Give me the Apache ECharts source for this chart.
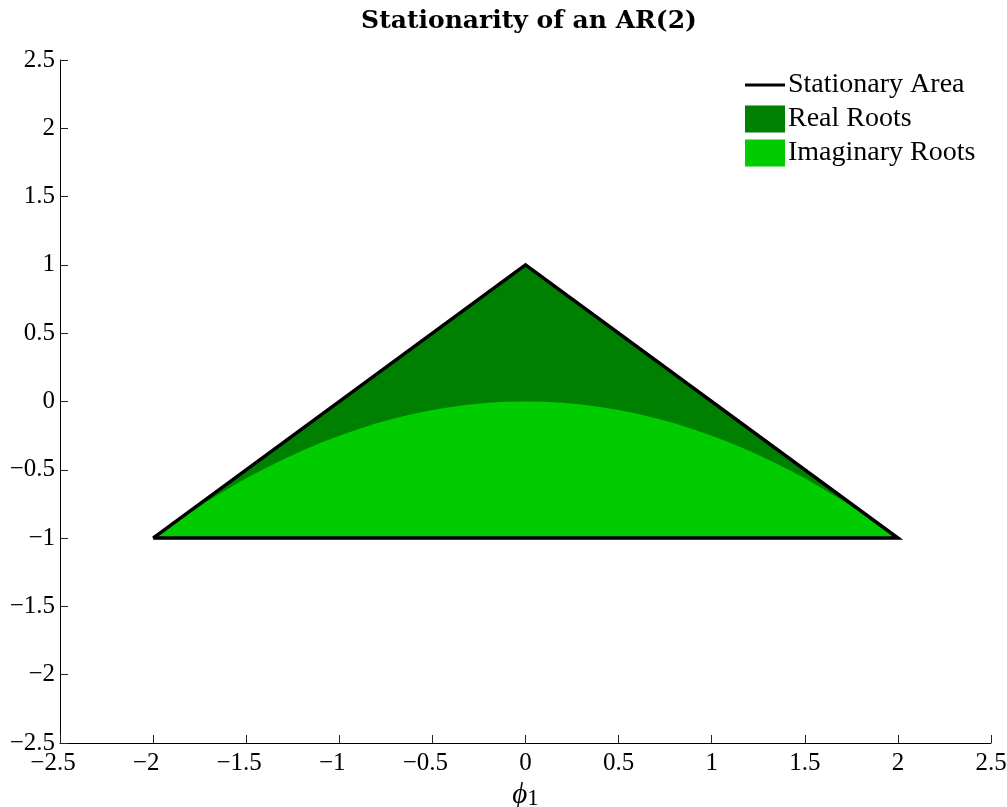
<!DOCTYPE html>
<html>
<head>
<meta charset="utf-8">
<script src="https://cdn.jsdelivr.net/npm/echarts@6/dist/echarts.min.js"></script>
<style>
  html, body { margin: 0; padding: 0; background: #fff; }
  #chart { width: 1007px; height: 807px; }
</style>
</head>
<body>
<div id="chart"></div>
<script>
// ---- data ----
const titleText = 'Stationarity of an AR(2)';
const seriesNames = ['Stationary Area', 'Real Roots', 'Imaginary Roots'];
// stationarity triangle (phi1, phi2)
const triangleX = [-2, 0, 2, -2];
const triangleY = [-1, 1, -1, -1];
// boundary between real and imaginary roots: phi2 = -phi1^2/4 (values written out)
const parabolaX = [-2, -1.9, -1.8, -1.7, -1.6, -1.5, -1.4, -1.3, -1.2, -1.1, -1, -0.9, -0.8, -0.7, -0.6, -0.5, -0.4, -0.3, -0.2, -0.1, 0,
                   0.1, 0.2, 0.3, 0.4, 0.5, 0.6, 0.7, 0.8, 0.9, 1, 1.1, 1.2, 1.3, 1.4, 1.5, 1.6, 1.7, 1.8, 1.9, 2];
const parabolaY = [-1, -0.9025, -0.81, -0.7225, -0.64, -0.5625, -0.49, -0.4225, -0.36, -0.3025, -0.25, -0.2025, -0.16, -0.1225, -0.09, -0.0625, -0.04, -0.0225, -0.01, -0.0025, 0,
                   -0.0025, -0.01, -0.0225, -0.04, -0.0625, -0.09, -0.1225, -0.16, -0.2025, -0.25, -0.3025, -0.36, -0.4225, -0.49, -0.5625, -0.64, -0.7225, -0.81, -0.9025, -1];
const xTicks = [-2.5, -2, -1.5, -1, -0.5, 0, 0.5, 1, 1.5, 2, 2.5];
const yTicks = [-2.5, -2, -1.5, -1, -0.5, 0, 0.5, 1, 1.5, 2, 2.5];

// ---- build ----
const triPts = triangleX.map((x, i) => [x, triangleY[i]]);
const imagPts = parabolaX.map((x, i) => [x, parabolaY[i]]);

function polygonSeries(name, pts, color) {
  return {
    name: name,
    type: 'custom',
    coordinateSystem: 'cartesian2d',
    itemStyle: { color: color },
    data: [pts[0]],
    encode: { x: 0, y: 1 },
    renderItem: function (params, api) {
      const points = pts.map(p => api.coord(p));
      return {
        type: 'polygon',
        shape: { points: points },
        style: { fill: color, stroke: null }
      };
    },
    silent: true
  };
}

const fmt = v => {
  const s = String(v);
  return s.charAt(0) === '-' ? '{n|\u2212' + s.slice(1) + '}{sp|}' : '{n|' + s + '}';
};

const serif = '"Liberation Serif", "Times New Roman", serif';

const chart = echarts.init(document.getElementById('chart'), null, { renderer: 'canvas' });
chart.setOption({
  animation: false,
  backgroundColor: '#fff',
  title: {
    text: titleText,
    left: 524, top: 4,
    textAlign: 'center',
    textStyle: { fontFamily: '"DejaVu Serif", serif', fontWeight: 'bold', fontSize: 25, color: '#000' }
  },
  legend: {
    left: 745, top: 71,
    orient: 'vertical',
    padding: 0,
    itemWidth: 40, itemHeight: 27, itemGap: 6,
    textStyle: { fontFamily: serif, fontSize: 28, color: '#000', padding: [0, 0, 0, -2] },
    data: [
      { name: seriesNames[0], icon: 'path://M0,0 L40,0 L40,3 L0,3 Z', itemStyle: { color: '#000' } },
      { name: seriesNames[1], icon: 'rect' },
      { name: seriesNames[2], icon: 'rect' }
    ]
  },
  grid: { left: 60, right: 16, top: 60, bottom: 64, containLabel: false, outerBoundsMode: 'none' },
  xAxis: {
    type: 'value',
    min: xTicks[0], max: xTicks[xTicks.length - 1], interval: xTicks[1] - xTicks[0],
    splitLine: { show: false },
    axisLine: { show: true, onZero: false, lineStyle: { color: '#000', width: 1 } },
    axisTick: { show: true, inside: true, length: 8, lineStyle: { color: '#222' } },
    axisLabel: {
      margin: 8, formatter: fmt, hideOverlap: false,
      rich: {
        n: { fontFamily: serif, fontSize: 25, color: '#000' },
        sp: { width: 14 }
      }
    },
    name: '{i|\u03d5}{s|1}',
    nameLocation: 'middle', nameGap: 32,
    nameTextStyle: {
      rich: {
        i: { fontFamily: serif, fontStyle: 'italic', fontSize: 29, color: '#000' },
        s: { fontFamily: serif, fontSize: 23, color: '#000', padding: [8, 0, 0, 0] }
      }
    }
  },
  yAxis: {
    type: 'value',
    min: yTicks[0], max: yTicks[yTicks.length - 1], interval: yTicks[1] - yTicks[0],
    splitLine: { show: false },
    axisLine: { show: true, onZero: false, lineStyle: { color: '#000', width: 1 } },
    axisTick: { show: true, inside: true, length: 8, lineStyle: { color: '#222' } },
    axisLabel: {
      margin: 5, hideOverlap: false,
      formatter: v => { const s = String(v); return '{n|' + (s.charAt(0) === '-' ? '\u2212' + s.slice(1) : s) + '}'; },
      rich: { n: { fontFamily: serif, fontSize: 25, color: '#000' } }
    }
  },
  series: [
    polygonSeries(seriesNames[1], triPts, '#008000'),
    polygonSeries(seriesNames[2], imagPts, '#00CC00'),
    {
      name: seriesNames[0],
      type: 'line',
      data: triPts,
      symbol: 'none',
      showSymbol: false,
      color: '#000',
      lineStyle: { color: '#000', width: 3.5, join: 'miter' },
      silent: true
    }
  ]
});
</script>
</body>
</html>
